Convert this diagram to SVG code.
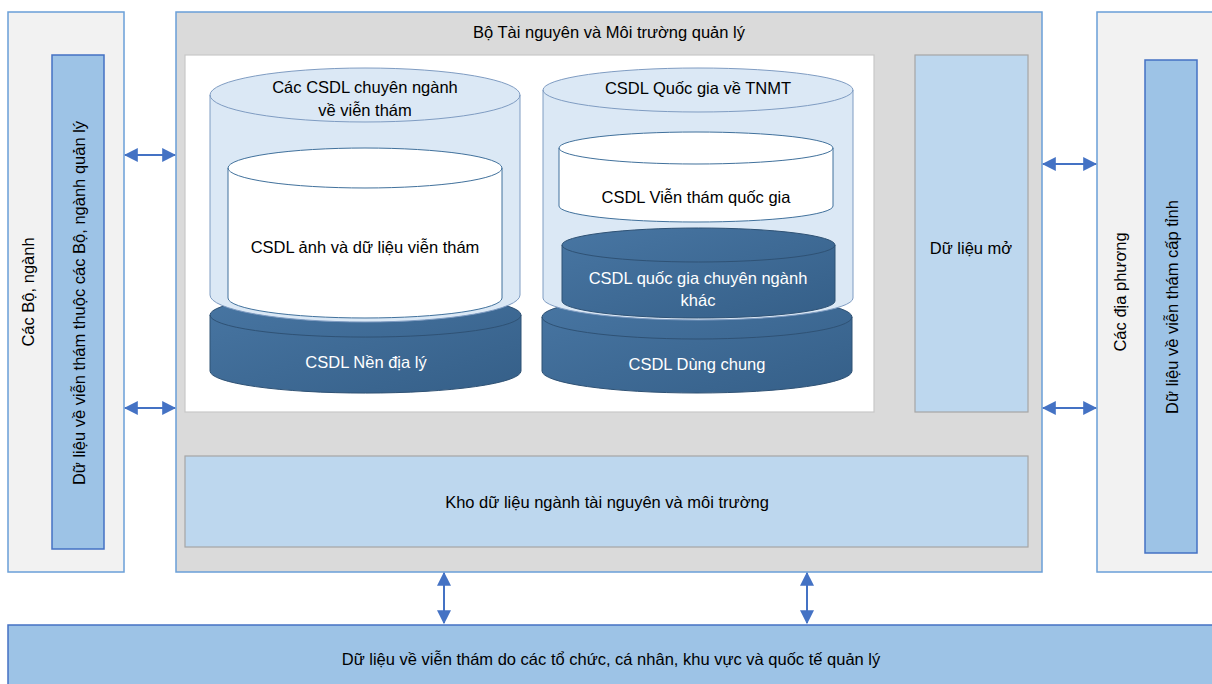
<svg xmlns="http://www.w3.org/2000/svg" width="1212" height="684" viewBox="0 0 1212 684">
<style>
text{font-family:"Liberation Sans",Arial,sans-serif;font-size:16.5px;fill:#000;text-anchor:middle;dominant-baseline:central}
.w{fill:#fff}
.outer{fill:#f2f2f2;stroke:#6a9fd8;stroke-width:1.5}
.bar{fill:#9dc3e6;stroke:#4472c4;stroke-width:1.5}
.light{fill:#bdd7ee;stroke:#a6a6a6;stroke-width:1.2}
.cl{fill:#dbe8f5;stroke:#7f9cc2;stroke-width:1}
.cw{fill:#fff;stroke:#41719c;stroke-width:1}
.cd{fill:url(#dg);stroke:#2f5275;stroke-width:1}
.conn{stroke:#4472c4;stroke-width:2;fill:none;marker-start:url(#ah);marker-end:url(#ah)}
</style>
<defs>
<linearGradient id="dg" x1="0" y1="0" x2="1" y2="1">
<stop offset="0" stop-color="#4876a3"/>
<stop offset="1" stop-color="#355f88"/>
</linearGradient>
<marker id="ah" viewBox="0 0 12 12" refX="11" refY="6" markerWidth="7" markerHeight="7" orient="auto-start-reverse" markerUnits="strokeWidth">
<path d="M0,0 L12,6 L0,12 Z" fill="#4472c4"/>
</marker>
</defs>
<rect width="1212" height="684" fill="#fff"/>

<g id="cac-bo-nganh">
<rect class="outer" x="8" y="12" width="116" height="560"/>
<text transform="translate(28,292) rotate(-90)">Các Bộ, ngành</text>
</g>
<g id="du-lieu-bo-nganh">
<rect class="bar" x="52" y="55" width="52" height="494"/>
<text transform="translate(79,303) rotate(-90)">Dữ liệu về viễn thám thuộc các Bộ, ngành quản lý</text>
</g>

<g id="bo-tnmt">
<rect x="176" y="12" width="866" height="560" fill="#dadada" stroke="#6a9fd8" stroke-width="1.5"/>
<text x="609" y="32">Bộ Tài nguyên và Môi trường quản lý</text>
</g>
<g id="panel">
<rect x="185" y="55" width="689" height="357" fill="#fff" stroke="#c8c8c8" stroke-width="1.2"/>
</g>

<g id="csdl-nen-dia-ly">
<path class="cd" d="M210,315 A155,22 0 0 1 521,315 L521,371 A155,22 0 0 1 210,371 Z"/>
<path d="M210,315 A155,22 0 0 0 521,315" fill="none" stroke="#2f5275"/>
<text class="w" x="366" y="362">CSDL Nền địa lý</text>
</g>
<g id="csdl-chuyen-nganh">
<path class="cl" d="M210,95 A155,27 0 0 1 520,95 L520,295 A155,27 0 0 1 210,295 Z"/>
<path d="M210,95 A155,27 0 0 0 520,95" fill="none" stroke="#7f9cc2"/>
<text x="365" y="87">Các CSDL chuyên ngành</text>
<text x="365" y="110">về viễn thám</text>
</g>
<g id="csdl-anh">
<path class="cw" d="M228,168 A137,20 0 0 1 502,168 L502,298 A137,20 0 0 1 228,298 Z"/>
<path d="M228,168 A137,20 0 0 0 502,168" fill="none" stroke="#41719c"/>
<text x="365" y="247">CSDL ảnh và dữ liệu viễn thám</text>
</g>

<g id="csdl-dung-chung">
<path class="cd" d="M542,317 A155,22 0 0 1 852,317 L852,371 A155,22 0 0 1 542,371 Z"/>
<path d="M542,317 A155,22 0 0 0 852,317" fill="none" stroke="#2f5275"/>
<text class="w" x="697" y="364">CSDL Dùng chung</text>
</g>
<g id="csdl-quoc-gia">
<path class="cl" d="M543,90 A155,22 0 0 1 853,90 L853,298 A155,22 0 0 1 543,298 Z"/>
<path d="M543,90 A155,22 0 0 0 853,90" fill="none" stroke="#7f9cc2"/>
<text x="698" y="88">CSDL Quốc gia về TNMT</text>
</g>
<g id="csdl-vien-tham-qg">
<path class="cw" d="M559,148 A137,16 0 0 1 833,148 L833,206 A137,16 0 0 1 559,206 Z"/>
<path d="M559,148 A137,16 0 0 0 833,148" fill="none" stroke="#41719c"/>
<text x="696" y="197">CSDL Viễn thám quốc gia</text>
</g>
<g id="csdl-qg-khac">
<path class="cd" d="M562,245 A136.5,17 0 0 1 835,245 L835,301 A136.5,17 0 0 1 562,301 Z"/>
<path d="M562,245 A136.5,17 0 0 0 835,245" fill="none" stroke="#2f5275"/>
<text class="w" x="698" y="278">CSDL quốc gia chuyên ngành</text>
<text class="w" x="698" y="300">khác</text>
</g>

<g id="du-lieu-mo">
<rect class="light" x="915" y="55" width="113" height="357"/>
<text x="971" y="248">Dữ liệu mở</text>
</g>
<g id="kho-du-lieu">
<rect class="light" x="185" y="456" width="843" height="91"/>
<text x="607" y="502">Kho dữ liệu ngành tài nguyên và môi trường</text>
</g>

<g id="cac-dia-phuong">
<rect class="outer" x="1097" y="12" width="122" height="560"/>
<text transform="translate(1120,292) rotate(-90)">Các địa phương</text>
</g>
<g id="du-lieu-cap-tinh">
<rect class="bar" x="1145" y="60" width="52" height="493"/>
<text transform="translate(1172,307) rotate(-90)">Dữ liệu về viễn thám cấp tỉnh</text>
</g>

<g id="du-lieu-to-chuc">
<rect class="bar" x="8" y="625" width="1212" height="70"/>
<text x="611" y="659">Dữ liệu về viễn thám do các tổ chức, cá nhân, khu vực và quốc tế quản lý</text>
</g>

<g id="connectors">
<line class="conn" x1="125" y1="155" x2="175" y2="155"/>
<line class="conn" x1="125" y1="408" x2="175" y2="408"/>
<line class="conn" x1="1043" y1="164" x2="1096" y2="164"/>
<line class="conn" x1="1043" y1="408" x2="1096" y2="408"/>
<line class="conn" x1="444" y1="573" x2="444" y2="623"/>
<line class="conn" x1="807" y1="573" x2="807" y2="623"/>
</g>
</svg>
